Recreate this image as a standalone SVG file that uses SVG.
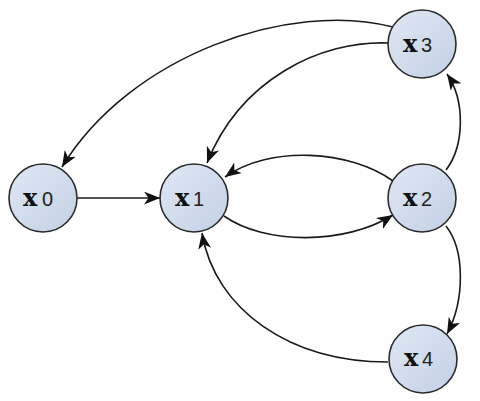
<svg xmlns="http://www.w3.org/2000/svg" width="480" height="401" viewBox="0 0 480 401">
<defs>
<linearGradient id="g" x1="0" y1="0" x2="1" y2="1">
<stop offset="0" stop-color="#dfe7f3"/>
<stop offset="1" stop-color="#c3d1e6"/>
</linearGradient>
<marker id="arr" markerUnits="userSpaceOnUse" markerWidth="18" markerHeight="14" refX="16" refY="6.5" orient="auto">
<path d="M0,0 L16,6.5 L0,13 L4.5,6.5 Z" fill="#111"/>
</marker>
<style>
.n{fill:url(#g);stroke:#2a2a2a;stroke-width:1.6}
.e{fill:none;stroke:#1a1a1a;stroke-width:1.6;marker-end:url(#arr)}
.v{font-family:"DejaVu Serif",serif;font-weight:bold;font-size:24px;fill:#111}
.d{font-family:"Liberation Sans",Arial,sans-serif;font-size:20px;fill:#222}
</style>
</defs>
<rect width="480" height="401" fill="#fff"/>
<g id="edges">
<path class="e" d="M77,198 L160,198"/>
<path class="e" d="M393,27 C290,0 130,55 62,167"/>
<path class="e" d="M389,43 C320,40 240,80 207,163"/>
<path class="e" d="M393,181 C350,150 270,145 225,177"/>
<path class="e" d="M224,216 C265,245 345,245 393,215"/>
<path class="e" d="M388,362 C290,362 215,310 202,233"/>
<path class="e" d="M446,170 C465,145 465,100 447,74"/>
<path class="e" d="M446,226 C465,250 465,300 447,334"/>
</g>
<g id="x0"><circle class="n" cx="43" cy="198" r="34"/><text x="23" y="205.5"><tspan class="v">x</tspan><tspan class="d" x="42">0</tspan></text></g>
<g id="x1"><circle class="n" cx="194" cy="198" r="34"/><text x="175" y="205.5"><tspan class="v">x</tspan><tspan class="d" x="193">1</tspan></text></g>
<g id="x2"><circle class="n" cx="422" cy="198" r="34"/><text x="403" y="205.5"><tspan class="v">x</tspan><tspan class="d" x="421">2</tspan></text></g>
<g id="x3"><circle class="n" cx="422" cy="44" r="34"/><text x="403" y="51.5"><tspan class="v">x</tspan><tspan class="d" x="421">3</tspan></text></g>
<g id="x4"><circle class="n" cx="423" cy="359" r="34"/><text x="404" y="366"><tspan class="v">x</tspan><tspan class="d" x="422">4</tspan></text></g>
</svg>
